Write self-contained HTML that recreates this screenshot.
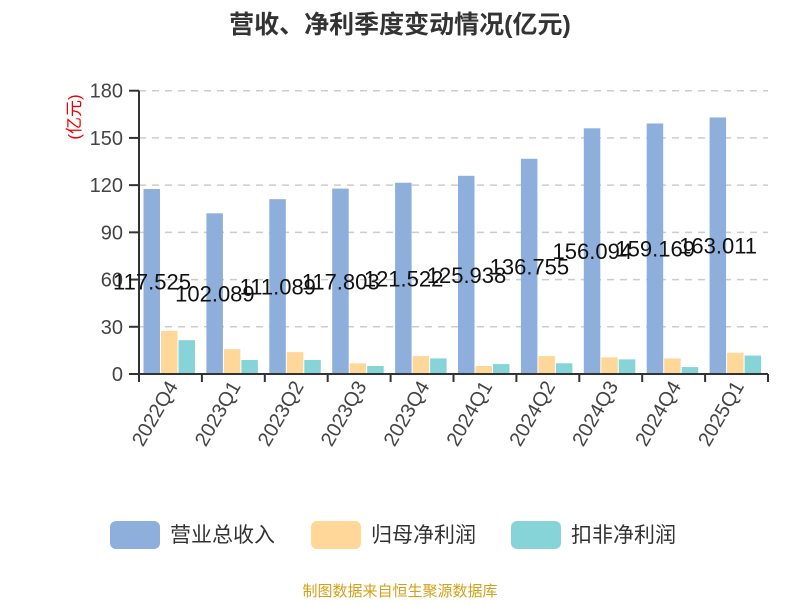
<!DOCTYPE html>
<html><head><meta charset="utf-8"><style>
body{margin:0;background:#fff;font-family:"Liberation Sans","Noto Sans CJK SC",sans-serif}
svg text{font-family:"Liberation Sans","Noto Sans CJK SC",sans-serif}
</style></head><body>
<svg id="c" width="800" height="600" xmlns="http://www.w3.org/2000/svg">
<text x="400" y="33" text-anchor="middle" font-size="25" font-weight="bold" fill="#333">营收、净利季度变动情况(亿元)</text>
<text transform="translate(80,117) rotate(-90)" text-anchor="middle" font-size="17" fill="#e00">(亿元)</text>
<g id="grid"></g><g id="bars"></g><g id="axes"></g><g id="labels"></g>
<g>
<rect x="110" y="521" width="50" height="28" rx="6" fill="#8eaedb"/>
<text x="170" y="542" font-size="21" fill="#333">营业总收入</text>
<rect x="311" y="521" width="50" height="28" rx="6" fill="#ffd899"/>
<text x="371" y="542" font-size="21" fill="#333">归母净利润</text>
<rect x="511" y="521" width="50" height="28" rx="6" fill="#86d4d8"/>
<text x="571" y="542" font-size="21" fill="#333">扣非净利润</text>
</g>
<text x="400" y="596" text-anchor="middle" font-size="15" fill="#d4a017">制图数据来自恒生聚源数据库</text>
</svg>
<script>
const categories=["2022Q4","2023Q1","2023Q2","2023Q3","2023Q4","2024Q1","2024Q2","2024Q3","2024Q4","2025Q1"];
const revenue=[117.525,102.089,111.089,117.803,121.522,125.938,136.755,156.094,159.169,163.011];
const netProfit=[27.4,15.8,13.9,6.8,11.4,5.1,11.4,10.6,9.9,13.5];
const deductedProfit=[21.5,8.9,8.9,5.1,9.9,6.3,6.8,9.3,4.4,11.7];
const yTicks=[0,30,60,90,120,150,180];
const NS="http://www.w3.org/2000/svg";
const x0=139,x1=768,yBase=374,yTop=90.7,yMax=180;
const bw=(x1-x0)/categories.length;
const y=v=>yBase-(v/yMax)*(yBase-yTop);
function mk(t,a,p){const e=document.createElementNS(NS,t);for(const k in a)e.setAttribute(k,a[k]);p.appendChild(e);return e;}
const grid=document.getElementById('grid'),bars=document.getElementById('bars'),axes=document.getElementById('axes'),labels=document.getElementById('labels');
yTicks.forEach(v=>{
 if(v>0){const g=mk('line',{x1:x0,x2:x1,y1:y(v),y2:y(v),stroke:'#ccc','stroke-width':1.5,'stroke-dasharray':'7,6'},grid);
 
 }
 const tk=mk('line',{x1:x0-10,x2:x0,y1:y(v),y2:y(v),stroke:'#333','stroke-width':2},axes);
 
 
 const t=mk('text',{x:x0-16,y:y(v)+7,'text-anchor':'end','font-size':20,fill:'#444'},axes);
 t.textContent=v;
 
 
});
const ya=mk('line',{x1:x0,x2:x0,y1:yTop,y2:yBase,stroke:'#333','stroke-width':2},axes);


const xa=mk('line',{x1:x0,x2:x1,y1:yBase,y2:yBase,stroke:'#333','stroke-width':2},axes);


const series=[[revenue,'#8eaedb','revenue'],[netProfit,'#ffd899','net-profit'],[deductedProfit,'#86d4d8','deducted-profit']];
categories.forEach((c,i)=>{
 const gx=x0+i*bw;
 series.forEach((s,j)=>{
  const v=s[0][i];
  const r=mk('rect',{x:gx+4.5+j*17.5,y:y(v),width:16.5,height:yBase-y(v),fill:s[1]},bars);
  
  
 });
 const tk=mk('line',{x1:gx+bw,x2:gx+bw,y1:yBase,y2:yBase+8,stroke:'#333','stroke-width':2},axes);
 
 
 if(i===0){const t0=mk('line',{x1:gx,x2:gx,y1:yBase,y2:yBase+8,stroke:'#333','stroke-width':2},axes);
 
 }
 const cx=gx+bw/2;
 const t=mk('text',{transform:`translate(${cx+8},${yBase+12}) rotate(-60)`,'text-anchor':'end','font-size':20,fill:'#444'},axes);
 t.textContent=c;
 
 
 const l=mk('text',{x:gx+13,y:y(revenue[i]/2)+8,'text-anchor':'middle','font-size':22,fill:'#111'},labels);
 l.textContent=revenue[i];
 
 
});
</script>
</body></html>
